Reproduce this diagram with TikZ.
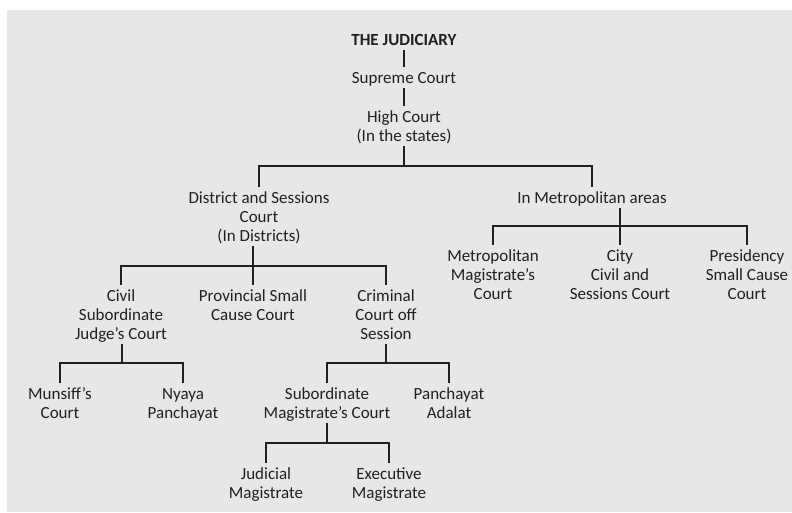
\documentclass[tikz,border=0pt]{standalone}
\usepackage{fontspec}
\setmainfont{Carlito}
\definecolor{bg}{HTML}{E6E7E8}
\definecolor{ink}{HTML}{231F20}
\newcommand\Tp{\rule{0pt}{16pt}}
\newcommand\Bt{\rule[-5pt]{0pt}{5pt}}
\begin{document}
\begin{tikzpicture}[x=1pt,y=-1pt,
  lbl/.style={inner sep=0pt, align=center, anchor=north, text=ink,
    font=\fontsize{17pt}{19pt}\selectfont},
  conn/.style={draw=ink, line width=2pt}]
\useasboundingbox (0,0) rectangle (792,513);
\fill[bg] (7,10) rectangle (792,512);
% nodes (y = first baseline - 16)
\node[lbl] (jud)  at (404,29)  {\Tp\textbf{THE JUDICIARY}\Bt};
\node[lbl] (sc)   at (404,67)  {\Tp Supreme Court\Bt};
\node[lbl] (hc)   at (404,106) {\Tp High Court\\(In the states)\Bt};
\node[lbl] (dsc)  at (259,187) {\Tp District and Sessions\\Court\\(In Districts)\Bt};
\node[lbl] (met)  at (592,187) {\Tp In Metropolitan areas\Bt};
\node[lbl] (civ)  at (121,285) {\Tp Civil\\Subordinate\\Judge’s Court\Bt};
\node[lbl] (prov) at (253,285) {\Tp Provincial Small\\Cause Court\Bt};
\node[lbl] (crim) at (386,285) {\Tp Criminal\\Court off\\Session\Bt};
\node[lbl] (mun)  at (60,383)  {\Tp Munsiff’s\\Court\Bt};
\node[lbl] (nya)  at (183,383) {\Tp Nyaya\\Panchayat\Bt};
\node[lbl] (sub)  at (327,383) {\Tp Subordinate\\Magistrate’s Court\Bt};
\node[lbl] (pan)  at (449,383) {\Tp Panchayat\\Adalat\Bt};
\node[lbl] (jm)   at (266,463) {\Tp Judicial\\Magistrate\Bt};
\node[lbl] (em)   at (389,463) {\Tp Executive\\Magistrate\Bt};
\node[lbl] (mm)   at (493,245) {\Tp Metropolitan\\Magistrate’s\\Court\Bt};
\node[lbl] (city) at (620,245) {\Tp City\\Civil and\\Sessions Court\Bt};
\node[lbl] (pres) at (747,245) {\Tp Presidency\\Small Cause\\Court\Bt};
% junctions
\coordinate (j1) at (404,166);
\coordinate (j2) at (253,266);
\coordinate (j3) at (620,226);
\coordinate (j4) at (122,363);
\coordinate (j5) at (386,363);
\coordinate (j6) at (327,443);
% connectors
\draw[conn] (jud) -- (sc);
\draw[conn] (sc) -- (hc);
\draw[conn] (hc.south) -- (j1);
\draw[conn] (dsc.north) -- (dsc.north |- j1) -- (met.north |- j1) -- (met.north);
\draw[conn] (dsc.south -| j2) -- (j2);
\draw[conn] (civ.north) -- (civ.north |- j2) -- (crim.north |- j2) -- (crim.north);
\draw[conn] (j2) -- (prov.north);
\draw[conn] (met.south -| j3) -- (j3);
\draw[conn] (mm.north) -- (mm.north |- j3) -- (pres.north |- j3) -- (pres.north);
\draw[conn] (j3) -- (city.north);
\draw[conn] (civ.south -| j4) -- (j4);
\draw[conn] (mun.north) -- (mun.north |- j4) -- (nya.north |- j4) -- (nya.north);
\draw[conn] (crim.south) -- (j5);
\draw[conn] (sub.north) -- (sub.north |- j5) -- (pan.north |- j5) -- (pan.north);
\draw[conn] (sub.south) -- (j6);
\draw[conn] (jm.north) -- (jm.north |- j6) -- (em.north |- j6) -- (em.north);
\end{tikzpicture}
\end{document}
